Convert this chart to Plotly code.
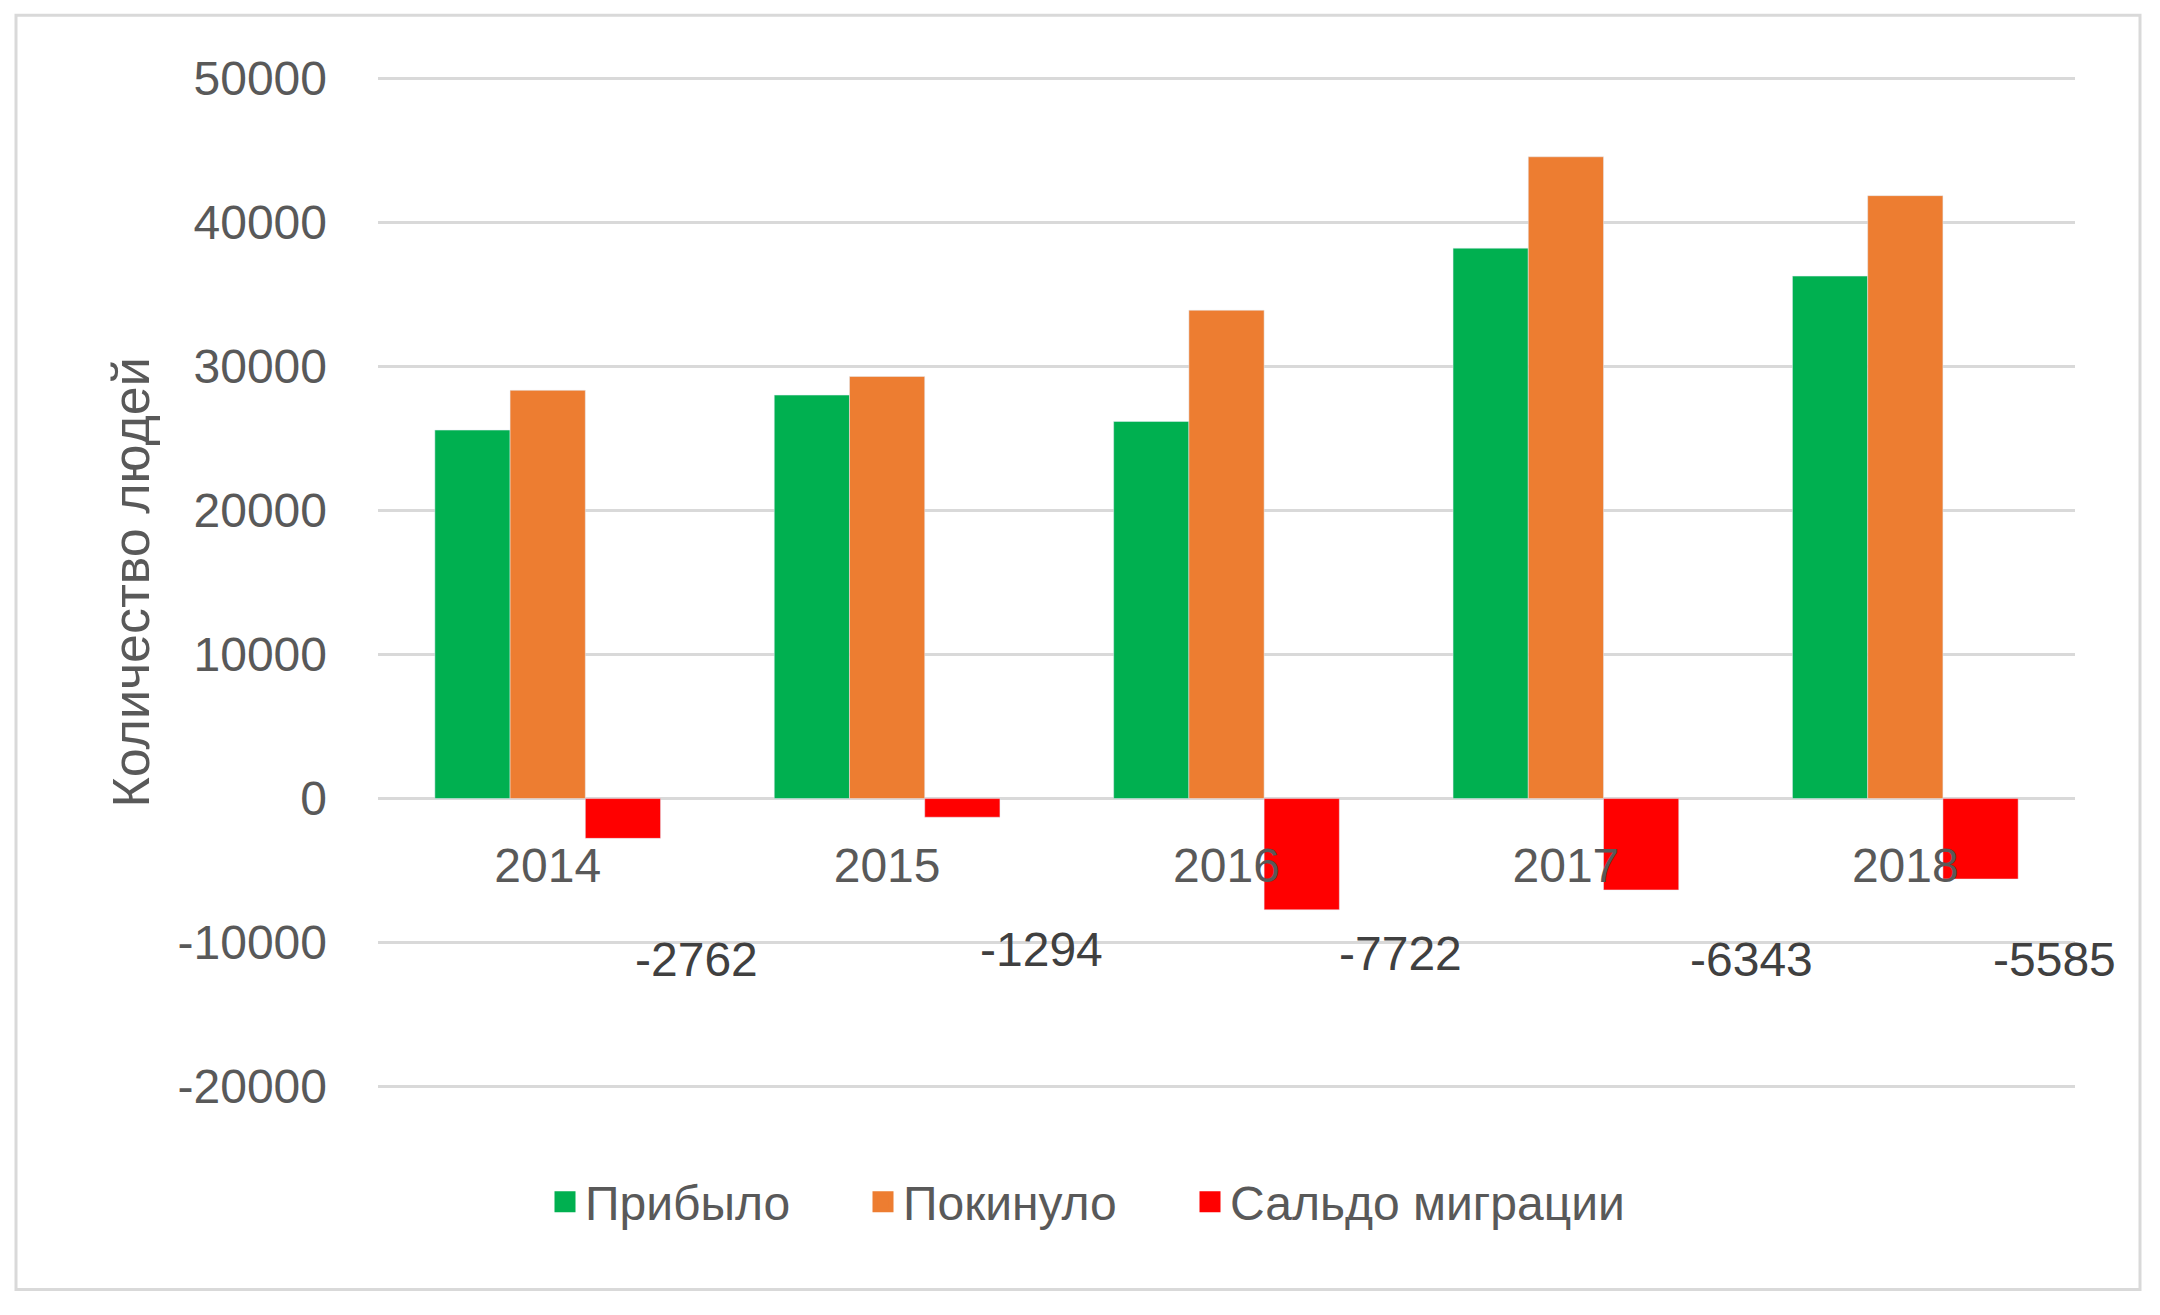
import plotly.graph_objects as go

# data
years = ["2014", "2015", "2016", "2017", "2018"]
arrived = [25580, 28010, 26180, 38210, 36270]
left = [28342, 29304, 33902, 44553, 41855]
saldo = [-2762, -1294, -7722, -6343, -5585]
y_ticks = [-20000, -10000, 0, 10000, 20000, 30000, 40000, 50000]

# label placement (dragged by hand in the original, so kept per point)
label_xshift = [149, 154, 174, 186, 149]
label_y = [-11200, -10500, -10750, -11200, -11200]

# the page body has an 8px margin, so the figure is laid out in page px - 8
OFF = 8
W, H = 2160 - 2 * OFF, 1315 - 2 * OFF
y_min, y_max = -20000, 50000
top_px, bot_px, left_px, right_px = 78 - OFF, 1087 - OFF, 378 - OFF, 2075 - OFF
pad = 300  # small range padding so the edge gridlines get drawn
pad_px = pad * (bot_px - top_px) / (y_max - y_min)
ML, MR = left_px, W - right_px
MT, MB = top_px - pad_px, H - bot_px - pad_px

txt = "#595959"
grid = "#D9D9D9"
font = "Liberation Sans, Arial, sans-serif"

series = [
    ("Прибыло", arrived, "#00B050", "legend", 545),
    ("Покинуло", left, "#ED7D31", "legend2", 863),
    ("Сальдо миграции", saldo, "#FF0000", "legend3", 1190),
]

fig = go.Figure()
legends = {}
for name, vals, col, lg, lx in series:
    fig.add_trace(go.Bar(x=years, y=vals, name=name, marker_color=col, showlegend=False))
    # square legend swatch
    fig.add_trace(go.Scatter(x=[None], y=[None], mode="markers", name=name, legend=lg,
                             marker=dict(symbol="square", size=27, color=col,
                                         line=dict(color=col, width=5))))
    legends[lg] = dict(orientation="h", xref="container", yref="container",
                       x=(lx - OFF) / W, xanchor="left",
                       y=1 - (1202 - OFF) / H, yanchor="middle",
                       bgcolor="rgba(0,0,0,0)", font=dict(size=48, color=txt, family=font))

for i, (v, dx, ly) in enumerate(zip(saldo, label_xshift, label_y)):
    fig.add_annotation(x=i, y=ly, text=str(v), showarrow=False, xshift=dx,
                       font=dict(size=48, color="#404040", family=font))

pw, ph = W - ML - MR, H - MT - MB

# y axis title
fig.add_annotation(xref="paper", yref="paper", x=(130 - OFF - ML) / pw, y=0.5,
                   xanchor="center", yanchor="middle",
                   text="Количество людей", textangle=-90, showarrow=False,
                   font=dict(size=52, color=txt, family=font))

# outer chart border
fig.add_shape(type="rect", xref="paper", yref="paper",
              x0=(16 - OFF - ML) / pw, x1=(2140 - OFF - ML) / pw,
              y0=(H - (1290 - OFF) - MB) / ph, y1=(H - (15 - OFF) - MB) / ph,
              line=dict(color=grid, width=3), fillcolor="rgba(0,0,0,0)", layer="below")

fig.update_layout(
    width=W, height=H,
    margin=dict(l=ML, r=MR, t=MT, b=MB, autoexpand=False),
    paper_bgcolor="white", plot_bgcolor="white",
    barmode="group", bargap=0.335, bargroupgap=0,
    font=dict(family=font, color=txt, size=48),
    showlegend=True,
    **legends,
)
fig.update_yaxes(range=[y_min - pad, y_max + pad], tickvals=y_ticks,
                 ticktext=[str(t) for t in y_ticks], automargin=False,
                 showgrid=True, gridcolor=grid, gridwidth=3, zeroline=False,
                 ticks="", ticklabelstandoff=50, tickfont=dict(size=48, color=txt))
fig.update_xaxes(type="category", range=[-0.5, len(years) - 0.5], anchor="free",
                 automargin=False,
                 position=(0 - (y_min - pad)) / (y_max - y_min + 2 * pad),
                 showgrid=False, showline=False, ticks="", ticklabelstandoff=34,
                 tickfont=dict(size=48, color=txt))

fig.write_html("out.html")
